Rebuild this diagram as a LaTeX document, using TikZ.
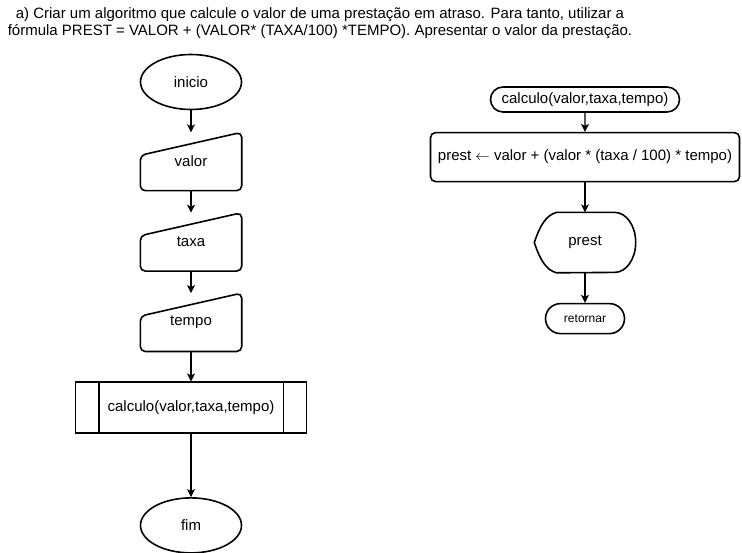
\documentclass[tikz,border=0pt]{standalone}
\usepackage{fontspec}
\setmainfont{Liberation Sans}
\usetikzlibrary{positioning,shapes.geometric,shapes.misc,arrows.meta}

\begin{document}
\begin{tikzpicture}[x=1pt, y=1pt,
	forma/.style = { draw, line width=1.6pt, rounded corners=5pt },
	terminal/.style = { draw, ellipse, line width=1.6pt, minimum width=101pt,
			minimum height=55pt, inner sep=0pt, font=\fontsize{15}{17}\selectfont },
	entrada/.style = { minimum width=101pt, minimum height=58pt, inner sep=0pt,
			font=\fontsize{15}{17}\selectfont },
	sub/.style = { draw, line width=1.6pt, minimum width=231pt, minimum height=51pt,
			inner sep=0pt, font=\fontsize{15}{17}\selectfont },
	pilula/.style = { draw, rounded rectangle, line width=1.6pt, inner sep=0pt,
			font=\fontsize{15}{17}\selectfont },
	caixa/.style = { draw, line width=1.6pt, rounded corners=5pt, inner sep=0pt,
			font=\fontsize{15}{17}\selectfont },
	seta/.style = { -{Stealth[length=8pt, width=8pt, inset=2pt]}, line width=1.1pt }]

  \useasboundingbox (0,0) rectangle (742,552);

  \node[name=enunciado, align=center, font=\fontsize{15}{17}\selectfont] at (320,528.5)
	{a) Criar um algoritmo que calcule o valor de uma prestação em atraso. Para tanto, utilizar a\\
	 fórmula PREST = VALOR + (VALOR* (TAXA/100) *TEMPO). Apresentar o valor da prestação.};

  % fluxo principal
  \node[name=inicio, terminal] at (191,470) {inicio};
  \node[name=valor, entrada, below=22pt of inicio] {valor};
  \node[name=taxa, entrada, below=22pt of valor] {taxa};
  \node[name=tempo, entrada, below=22pt of taxa] {tempo};
  \foreach \n in {valor,taxa,tempo}
    \draw[forma] (\n.north east) -- (\n.south east) -- (\n.south west)
	 -- ([yshift=-23pt]\n.north west) -- cycle;
  \node[name=chamada, sub, below=30pt of tempo] {calculo(valor,taxa,tempo)};
  \draw[line width=1.6pt] ([xshift=24pt]chamada.north west) -- ([xshift=24pt]chamada.south west);
  \draw[line width=1.6pt] ([xshift=-24pt]chamada.north east) -- ([xshift=-24pt]chamada.south east);
  \node[name=fim, terminal, below=63pt of chamada] {fim};

  \draw [seta] (inicio) -- (valor);
  \draw [seta] (valor) -- (taxa);
  \draw [seta] (taxa) -- (tempo);
  \draw [seta] (tempo) -- (chamada);
  \draw [seta] (chamada) -- (fim);

  % funcao calculo
  \node[name=funcao, pilula, minimum width=189pt, minimum height=25pt] at (585,452.5)
	{calculo(valor,taxa,tempo)};
  \node[name=atrib, caixa, minimum width=309pt, minimum height=49pt, below=19pt of funcao]
	{prest $\leftarrow$ valor + (valor * (taxa / 100) * tempo)};
  \node[name=saida, minimum width=101pt, minimum height=60pt, inner sep=0pt,
	font=\fontsize{15}{17}\selectfont, below=30pt of atrib] {prest};
  \draw[line width=1.6pt] (saida.west) .. controls +(6pt,18pt) and +(-10pt,-3pt) ..
	 ([xshift=22pt]saida.north west) -- ([xshift=-21pt]saida.north east)
	 arc[start angle=90, end angle=-90, x radius=21pt, y radius=30pt]
	 -- ([xshift=22pt]saida.south west) .. controls +(-10pt,3pt) and +(6pt,-18pt) ..
	 (saida.west) -- cycle;
  \node[name=retornar, pilula, minimum width=79pt, minimum height=30pt,
	font=\fontsize{12}{14}\selectfont, below=30pt of saida] {retornar};

  \draw [seta] (funcao) -- (atrib);
  \draw [seta] (atrib) -- (saida);
  \draw [seta] (saida) -- (retornar);
\end{tikzpicture}
\end{document}
